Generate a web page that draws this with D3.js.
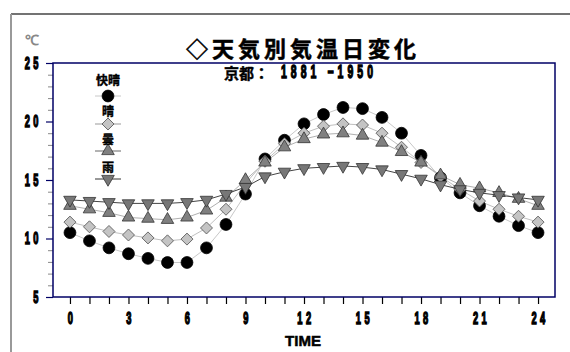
<!DOCTYPE html>
<html>
<head>
<meta charset="utf-8">
<script src="https://cdn.jsdelivr.net/npm/d3@7/dist/d3.min.js"></script>
<style>
  html, body { margin: 0; padding: 0; background: #fff; }
  svg { display: block; }
  .num { font-family: "Liberation Sans", "Arial", sans-serif; font-weight: bold; }
  .jp { font-family: "Noto Sans CJK JP", sans-serif; font-weight: bold; }
</style>
</head>
<body>
<script>
// Hourly mean temperature by weather type, Kyoto 1881-1950
const hours = [0,1,2,3,4,5,6,7,8,9,10,11,12,13,14,15,16,17,18,19,20,21,22,23,24];
const hourLabels = [0,3,6,9,12,15,18,21,24];
const yLabels = [5,10,15,20,25];
const seriesNames = ["快晴", "晴", "曇", "雨"];
const kaisei = [10.5,9.8,9.2,8.7,8.3,7.95,7.95,9.2,11.2,13.8,16.8,18.4,19.8,20.6,21.2,21.1,20.35,19.0,17.1,15.2,13.9,12.8,11.9,11.1,10.5];
const hare   = [11.4,11.0,10.6,10.3,10.05,9.8,9.95,10.9,12.5,14.7,16.6,18.1,19.0,19.6,19.8,19.7,19.0,17.8,16.5,15.3,14.2,13.2,12.5,11.9,11.4];
const kumori = [12.8,12.5,12.2,11.8,11.7,11.6,11.8,12.4,13.5,15.0,16.5,17.8,18.5,18.9,19.0,18.8,18.2,17.4,16.5,15.4,14.6,14.3,13.9,13.4,12.8];
const ame    = [13.3,13.2,13.1,13.0,13.0,13.0,13.1,13.3,13.8,14.4,15.3,15.7,16.0,16.1,16.2,16.1,15.9,15.5,15.1,14.6,14.2,13.9,13.7,13.5,13.3];
const seriesValues = [kaisei, hare, kumori, ame];

const W = 570, H = 352;
const svg = d3.select("body").append("svg").attr("width", W).attr("height", H);

const pLeft = 53, pRight = 555, pTop = 63, pBottom = 297;
const x = d3.scaleLinear().domain([-0.87, 24.87]).range([pLeft, pRight]);
const y = d3.scaleLinear().domain([5, 25]).range([pBottom, pTop]);

// condensed, heavy, spaced digits
const narrow = 0.58;
function digitLabel(g, tx, ty, txt, anchor, fs) {
  return g.append("g").attr("transform", `translate(${tx},${ty}) scale(${narrow},1)`)
    .append("text").attr("class", "num")
    .attr("text-anchor", anchor).attr("dominant-baseline", "central")
    .attr("font-size", fs || 16).attr("letter-spacing", 6)
    .attr("stroke", "#000").attr("stroke-width", 1.4)
    .text(txt);
}

// outer frame
svg.append("line").attr("x1", 11).attr("x2", W).attr("y1", 14).attr("y2", 14)
  .attr("stroke", "#444").attr("stroke-width", 1.5);
svg.append("line").attr("x1", 11).attr("x2", 11).attr("y1", 14).attr("y2", H)
  .attr("stroke", "#999").attr("stroke-width", 2);

// minor y ticks
const minor = [];
for (let v = 5; v <= 25; v++) if (v % 5 !== 0) minor.push(v);
const gMinor = svg.append("g").attr("transform", `translate(${pLeft},0)`)
  .call(d3.axisLeft(y).tickValues(minor).tickSize(5).tickFormat(""));
gMinor.select(".domain").remove();
gMinor.selectAll("line").attr("stroke", "#888");

// major y ticks
const gY = svg.append("g").attr("transform", `translate(${pLeft},0)`)
  .call(d3.axisLeft(y).tickValues(yLabels).tickSize(7).tickFormat(""));
gY.select(".domain").remove();
gY.selectAll("line").attr("stroke", "#000066").attr("stroke-width", 1.2);
const gYL = svg.append("g");
yLabels.forEach(v => digitLabel(gYL, 42, y(v), String(v), "end"));

// x ticks
const gX = svg.append("g").attr("transform", `translate(0,${pBottom})`)
  .call(d3.axisBottom(x).tickValues(hours).tickSize(7).tickFormat(""));
gX.select(".domain").remove();
gX.selectAll("line").attr("stroke", "#000").attr("stroke-width", 1.2);
const gXL = svg.append("g");
hourLabels.forEach(v => digitLabel(gXL, x(v) + 2, 318, String(v), "middle"));

// plot border
svg.append("rect").attr("x", pLeft).attr("y", pTop)
  .attr("width", pRight - pLeft).attr("height", pBottom - pTop)
  .attr("fill", "none").attr("stroke", "#000066").attr("stroke-width", 1.5);

// titles
svg.append("text").attr("class", "jp")
  .attr("x", 303).attr("y", 47).attr("text-anchor", "middle").attr("dominant-baseline", "central")
  .attr("font-size", 22).attr("letter-spacing", 4).attr("stroke", "#000").attr("stroke-width", 0.5)
  .text("◇天気別気温日変化");
const sub = svg.append("g").attr("transform", "translate(224,72)");
sub.append("text").attr("class", "jp")
  .attr("dominant-baseline", "central").attr("font-size", 15).attr("stroke", "#000").attr("stroke-width", 0.4)
  .text("京都：");
sub.append("g").attr("transform", `translate(57,0) scale(${narrow},1)`)
  .append("text").attr("class", "num").attr("dominant-baseline", "central")
  .attr("font-size", 18).attr("letter-spacing", 7)
  .attr("stroke", "#000").attr("stroke-width", 1.4).text("1881 −1950");
svg.append("text").attr("font-family", "Liberation Sans, sans-serif").attr("font-weight", "bold")
  .attr("x", 25).attr("y", 40).attr("dominant-baseline", "central")
  .attr("font-size", 14).attr("fill", "#888").text("℃");
svg.append("text").attr("font-family", "Liberation Sans, sans-serif").attr("font-weight", "bold")
  .attr("x", 285).attr("y", 340).attr("dominant-baseline", "central")
  .attr("font-size", 15).attr("textLength", 36).attr("lengthAdjust", "spacingAndGlyphs")
  .attr("stroke", "#000").attr("stroke-width", 0.5)
  .text("TIME");

// series styles
const styles = [
  { sym: d3.symbolCircle, size: 110, rot: 0, fill: "#000", stroke: "#000", line: "#c8c8c8" },
  { sym: d3.symbolSquare, size: 72, rot: 45, fill: "#c4c4c4", stroke: "#555", line: "#c0c0c0" },
  { sym: d3.symbolTriangle, size: 68, rot: 0, fill: "#808080", stroke: "#333", line: "#b0b0b0" },
  { sym: d3.symbolTriangle, size: 68, rot: 180, fill: "#777", stroke: "#333", line: "#444" }
];

const line = d3.line().x((d, i) => x(hours[i])).y(d => y(d));
const gPlot = svg.append("g");
seriesValues.forEach((vals, s) => {
  gPlot.append("path").datum(vals).attr("d", line)
    .attr("fill", "none").attr("stroke", styles[s].line).attr("stroke-width", 1);
});
seriesValues.forEach((vals, s) => {
  const st = styles[s];
  gPlot.append("g").selectAll("path").data(vals).join("path")
    .attr("d", d3.symbol().type(st.sym).size(st.size))
    .attr("transform", (d, i) => `translate(${x(hours[i])},${y(d)}) rotate(${st.rot})`)
    .attr("fill", st.fill).attr("stroke", st.stroke).attr("stroke-width", 0.8);
});

// legend
const lx = 108;
const labelY = [79, 110, 138, 166];
const markY = [96, 124, 151, 179];
const legendLine = ["#c8c8c8", "#999", "#666", "#333"];
const gLeg = svg.append("g");
seriesNames.forEach((name, s) => {
  const st = styles[s];
  gLeg.append("line").attr("x1", lx - 13).attr("x2", lx + 13)
    .attr("y1", markY[s]).attr("y2", markY[s]).attr("stroke", legendLine[s]).attr("stroke-width", 1);
  gLeg.append("path").attr("d", d3.symbol().type(st.sym).size(st.size))
    .attr("transform", `translate(${lx},${markY[s]}) rotate(${st.rot})`)
    .attr("fill", st.fill).attr("stroke", st.stroke).attr("stroke-width", 0.8);
  gLeg.append("text").attr("class", "jp")
    .attr("x", lx).attr("y", labelY[s]).attr("text-anchor", "middle").attr("dominant-baseline", "central")
    .attr("font-size", 12).attr("stroke", "#000").attr("stroke-width", 0.4).text(name);
});
</script>
</body>
</html>
